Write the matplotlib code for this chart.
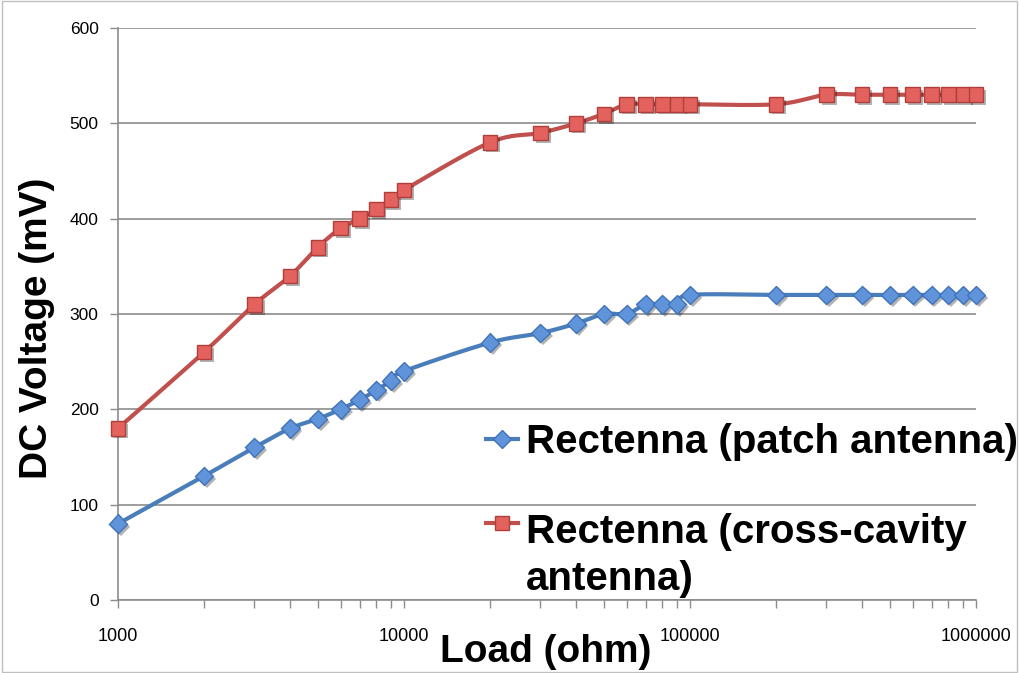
import numpy as np
import matplotlib
matplotlib.use("Agg")
import matplotlib.pyplot as plt
import matplotlib.patheffects as pe
from matplotlib.legend_handler import HandlerLine2D
from matplotlib.ticker import LogLocator, FixedLocator, FixedFormatter, NullFormatter

# --- data ---
load_ohm = [1000, 2000, 3000, 4000, 5000, 6000, 7000, 8000, 9000, 10000,
            20000, 30000, 40000, 50000, 60000, 70000, 80000, 90000, 100000,
            200000, 300000, 400000, 500000, 600000, 700000, 800000, 900000, 1000000]
v_patch = [80, 130, 160, 180, 190, 200, 210, 220, 230, 240,
           270, 280, 290, 300, 300, 310, 310, 310, 320,
           320, 320, 320, 320, 320, 320, 320, 320, 320]
v_cross = [180, 260, 310, 340, 370, 390, 400, 410, 420, 430,
           480, 490, 500, 510, 520, 520, 520, 520, 520,
           520, 530, 530, 530, 530, 530, 530, 530, 530]
labels = ["Rectenna (patch antenna)", "Rectenna (cross-cavity\nantenna)"]
x_ticks = [1000, 10000, 100000, 1000000]
x_ticklabels = ["1000", "10000", "100000", "1000000"]
y_ticks = [0, 100, 200, 300, 400, 500, 600]

FONT = ["Liberation Sans", "DejaVu Sans"]
plt.rcParams["font.family"] = FONT


def smooth(xs, ys, n=20):
    # Catmull-Rom through the points in (log10 x, y), like Excel's smoothed line
    lx = np.log10(np.asarray(xs, float))
    y = np.asarray(ys, float)
    px = np.concatenate([[2 * lx[0] - lx[1]], lx, [2 * lx[-1] - lx[-2]]])
    py = np.concatenate([[2 * y[0] - y[1]], y, [2 * y[-1] - y[-2]]])
    outx, outy = [], []
    t = np.linspace(0, 1, n, endpoint=False)
    for i in range(1, len(px) - 2):
        for arr, out in ((px, outx), (py, outy)):
            p0, p1, p2, p3 = arr[i - 1], arr[i], arr[i + 1], arr[i + 2]
            out.extend(0.5 * (2 * p1 + (-p0 + p2) * t
                              + (2 * p0 - 5 * p1 + 4 * p2 - p3) * t ** 2
                              + (-p0 + 3 * p1 - 3 * p2 + p3) * t ** 3))
    outx.append(lx[-1])
    outy.append(y[-1])
    return 10 ** np.array(outx), np.array(outy)


class RaisedHandler(HandlerLine2D):
    # legend handle lifted up so it sits by the first line of a two-line label
    def __init__(self, dy, **kw):
        super().__init__(**kw)
        self.dy = dy

    def create_artists(self, *args, **kw):
        arts = super().create_artists(*args, **kw)
        for a in arts:
            a.set_ydata(np.asarray(a.get_ydata()) + self.dy)
        return arts


fig = plt.figure(figsize=(10.19, 6.73), dpi=100)
ax = fig.add_axes([118 / 1019, 1 - 600 / 673, 858 / 1019, 572 / 673])

shadow = [pe.SimplePatchShadow(offset=(2, -2), shadow_rgbFace="k", alpha=0.3), pe.Normal()]

series = [
    (v_patch, "#4A7EBB", "#5F93DA", "#4273B8", "D", 9.5),
    (v_cross, "#C0504D", "#E4625E", "#B03F3B", "s", 10.5),
]
handles = []
for vals, lc, fc, ec, mk, ms in series:
    sx, sy = smooth(load_ohm, vals)
    ax.plot(sx, sy, color=lc, lw=3.0, solid_capstyle="round", zorder=3, clip_on=False)
    ax.plot(load_ohm, vals, ls="none", marker=mk, ms=ms, mfc=fc, mec=ec, mew=1,
            zorder=4, clip_on=False, path_effects=shadow)
    h, = ax.plot([], [], color=lc, lw=3.0, marker=mk, ms=ms, mfc=fc, mec=ec, mew=1)
    handles.append(h)

ax.set_xscale("log")
ax.set_xlim(1000, 1000000)
ax.set_ylim(0, 600)

ax.xaxis.set_major_locator(FixedLocator(x_ticks))
ax.xaxis.set_major_formatter(FixedFormatter(x_ticklabels))
ax.xaxis.set_minor_locator(LogLocator(base=10, subs=np.arange(2, 10)))
ax.xaxis.set_minor_formatter(NullFormatter())
ax.set_yticks(y_ticks)

ax.grid(axis="y", color="#8C8C8C", lw=1.2)
ax.set_axisbelow(True)
for s in ("top", "right"):
    ax.spines[s].set_visible(False)
for s in ("left", "bottom"):
    ax.spines[s].set_color("#8C8C8C")
    ax.spines[s].set_linewidth(1.2)

ax.tick_params(axis="x", which="both", direction="out", length=6, width=1,
               color="#8C8C8C", pad=14, labelsize=13)
ax.tick_params(axis="y", direction="out", length=6, width=1,
               color="#8C8C8C", pad=8, labelsize=12.5)

ax.set_xlabel("Load (ohm)", fontsize=28, fontweight="bold")
ax.xaxis.set_label_coords(0.498, -0.06)
ax.set_ylabel("DC Voltage (mV)", fontsize=28, fontweight="bold")
ax.yaxis.set_label_coords(-0.073, 0.475)

leg = ax.legend(handles, labels, loc="upper left", bbox_to_anchor=(486 / 1019, 1 - 423 / 673),
                bbox_transform=fig.transFigure, frameon=False,
                prop={"family": FONT, "weight": "bold", "size": 29},
                handlelength=0.8, handletextpad=0.2, labelspacing=1.3,
                borderaxespad=0, borderpad=0,
                handler_map={handles[1]: RaisedHandler(24)})
leg.get_texts()[1].set_linespacing(1.3)
leg.set_zorder(5)

# thin frame round the whole picture
fig.patches.append(plt.Rectangle((0.002, 0.002), 0.996, 0.996, transform=fig.transFigure,
                                 fill=False, ec="#BFBFBF", lw=1))

fig.savefig("out.png", dpi=100)
